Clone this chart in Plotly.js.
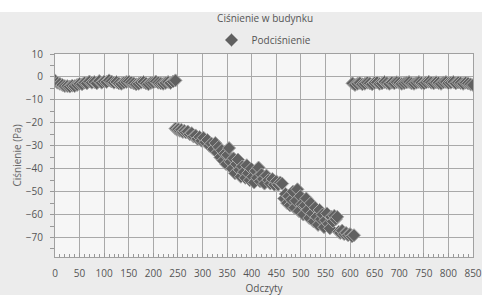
<!DOCTYPE html>
<html>
<head>
<meta charset="utf-8">
<script src="https://cdn.plot.ly/plotly-3.0.1.min.js"></script>
<style>html,body{margin:0;padding:0;background:#fff;}#chart{width:482px;height:295px;}</style>
</head>
<body>
<div id="chart"></div>
<script>
// Segment 1: readings 0-245 (near zero)
var x1 = [0,5,10,15,20,25,30,35,40,45,50,55,60,65,70,75,80,85,90,95,100,105,110,115,120,125,130,135,140,145,150,155,160,165,170,175,180,185,190,195,200,205,210,215,220,225,230,235,240,245];
var y1 = [-1.5,-2.5,-3,-3.5,-4,-4,-4.2,-3.8,-4,-3.5,-3,-3.2,-2.5,-2.8,-2,-2.5,-2.2,-2.8,-1.8,-2.5,-2,-2.2,-1.5,-2,-2.5,-2.2,-2.8,-3,-2.5,-2.2,-2,-2.4,-2.8,-3.2,-3,-2.5,-2.2,-2.8,-3.2,-2.6,-2.4,-2,-2.5,-2.8,-3,-2.6,-2.2,-2.6,-2,-1.5];
// Segment 2: readings 245-608 (falling)
var x2 = [245,248,251,254,257,260,263,266,270,274,278,282,286,290,294,298,302,306,310,314,318,322,326,330,333,336,339,342,345,348,351,354,357,360,363,366,369,372,375,378,381,384,387,390,393,396,399,402,405,408,411,414,417,420,423,426,430,434,438,442,446,450,454,458,462,466,469,472,475,478,481,484,487,490,493,496,499,502,505,508,511,514,517,520,523,526,529,532,535,538,541,544,547,550,553,556,559,562,565,568,571,574,577,580,584,588,592,596,600,604,608];
var y2 = [-22.5,-23,-22.8,-23.5,-23,-24,-23.5,-24.2,-23.8,-25,-24.5,-26,-25.5,-27,-26.2,-27.8,-26.5,-28.5,-27.5,-30,-29,-31.5,-28.8,-33,-30.5,-35,-32,-36.5,-33.5,-38,-34,-31,-37,-40,-35.5,-42,-38,-36,-40.5,-43.5,-39,-41.5,-44,-38.5,-42,-45,-40,-43.5,-46,-41,-44,-39.5,-45.5,-42.5,-44.5,-46.5,-43,-45,-46.5,-44.5,-47,-45.5,-47,-46,-46.5,-53,-51,-55,-52,-56,-53.5,-50,-57,-54,-49,-58.5,-52,-55.5,-60,-56,-53,-58,-61.5,-55,-59.5,-63,-57,-61,-64.5,-58,-62,-60,-65.5,-62.5,-59.5,-64,-66,-61,-63,-60.5,-62,-61,-67.5,-68,-67,-68.5,-68,-69,-68.5,-69.5,-69];
// Segment 3: readings 605-850 (near zero)
var x3 = [605,610,615,620,625,630,635,640,645,650,655,660,665,670,675,680,685,690,695,700,705,710,715,720,725,730,735,740,745,750,755,760,765,770,775,780,785,790,795,800,805,810,815,820,825,830,835,840,845,850];
var y3 = [-2.8,-3.5,-3,-2.6,-3.2,-3,-2.5,-2.8,-3.2,-2.6,-2.4,-3,-2.8,-2.2,-2.6,-3,-2.5,-2.8,-2.3,-2.6,-3,-2.7,-2.4,-2.2,-2.8,-3,-2.5,-2.2,-2.6,-2.9,-2.4,-2.1,-2.5,-2.8,-2.3,-2.6,-3,-2.4,-2.2,-2.7,-2.5,-2.2,-2.8,-2.4,-2.6,-3,-2.5,-2.8,-3.2,-3.5];

var xs = x1.concat(x2, x3);
var ys = y1.concat(y2, y3);

var trace = {
  x: xs, y: ys, type: 'scatter', mode: 'markers', name: 'Podciśnienie',
  marker: {symbol: 'diamond', size: 10, color: '#606060', line: {color: '#a8a8a8', width: 1}},
  showlegend: true
};

var fontFam = '"Open Sans", "DejaVu Sans", sans-serif';
var layout = {
  width: 482, height: 295,
  margin: {l: 55, r: 9, t: 54, b: 38},
  paper_bgcolor: '#ececec',
  plot_bgcolor: '#f6f6f6',
  font: {family: fontFam, size: 10, color: '#555'},
  title: {text: 'Ciśnienie w budynku', font: {size: 10, color: '#555'}, x: 0.55, xanchor: 'center', yref: 'container', y: 1 - 18/295, yanchor: 'middle'},
  showlegend: true,
  legend: {orientation: 'h', x: 0.5, xanchor: 'center', y: (257-40)/203, yanchor: 'middle', bgcolor: 'rgba(0,0,0,0)', font: {size: 10, color: '#555'}},
  xaxis: {
    range: [0, 850], dtick: 50, tick0: 0,
    showgrid: true, gridcolor: '#a9a9a9', gridwidth: 1,
    showline: true, linecolor: '#a0a0a0', mirror: true,
    ticks: 'inside', ticklen: 4, tickcolor: '#999',
    minor: {dtick: 10, ticks: 'inside', ticklen: 3, tickcolor: '#999', showgrid: false},
    zeroline: false,
    ticklabelstandoff: 7,
    tickfont: {size: 10, color: '#555'},
    title: {text: 'Odczyty', font: {size: 10, color: '#555'}, standoff: 8}
  },
  yaxis: {
    range: [-78.5, 10], dtick: 10, tick0: 0,
    showgrid: true, gridcolor: '#a9a9a9', gridwidth: 1,
    showline: true, linecolor: '#a0a0a0', mirror: true,
    ticks: 'outside', ticklen: 4, tickcolor: '#999',
    minor: {dtick: 5, ticks: 'outside', ticklen: 4, tickcolor: '#999', showgrid: false},
    zeroline: false,
    ticklabelstandoff: 5,
    tickfont: {size: 10, color: '#555'},
    title: {text: 'Ciśnienie (Pa)', font: {size: 10, color: '#666'}, standoff: 2}
  },
  shapes: [{type: 'rect', xref: 'paper', yref: 'paper', x0: -55/418, x1: 427/418, y0: (257-12)/203, y1: 257/203 + 0.01, fillcolor: '#ffffff', line: {width: 0}, layer: 'below'}]
};

Plotly.newPlot('chart', [trace], layout, {displayModeBar: false, staticPlot: true});
</script>
</body>
</html>
